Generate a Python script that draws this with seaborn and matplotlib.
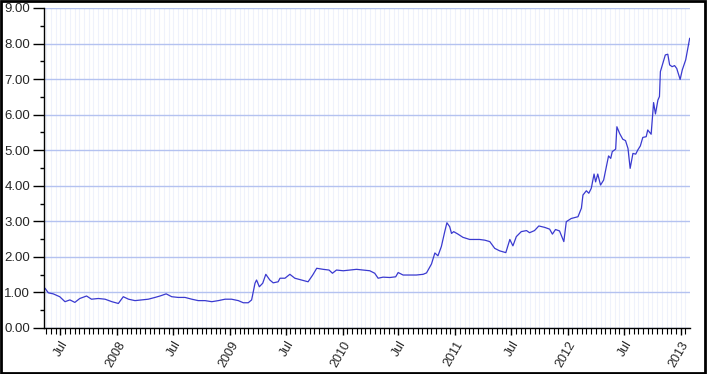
import matplotlib
matplotlib.use("Agg")
import matplotlib.pyplot as plt
import matplotlib.dates as mdates
from matplotlib.ticker import MultipleLocator, FormatStrFormatter
from matplotlib.patches import Rectangle
import pandas as pd
import seaborn as sns

dates = [
    "2007-05-12", "2007-05-23", "2007-06-08", "2007-06-29", "2007-07-16", "2007-08-01",
    "2007-08-17", "2007-09-02", "2007-09-24", "2007-10-10", "2007-11-01", "2007-11-23",
    "2007-12-15", "2008-01-05", "2008-01-21", "2008-02-07", "2008-02-28", "2008-03-21",
    "2008-04-11", "2008-05-03", "2008-05-19", "2008-06-08", "2008-06-26", "2008-07-17",
    "2008-08-08", "2008-08-30", "2008-09-20", "2008-10-12", "2008-11-03", "2008-11-24",
    "2008-12-16", "2009-01-06", "2009-01-28", "2009-02-13", "2009-03-01", "2009-03-12",
    "2009-03-23", "2009-03-28", "2009-04-06", "2009-04-17", "2009-04-27", "2009-05-10",
    "2009-05-21", "2009-06-06", "2009-06-12", "2009-06-28", "2009-07-14", "2009-07-30",
    "2009-08-21", "2009-09-11", "2009-09-26", "2009-10-09", "2009-10-30", "2009-11-18",
    "2009-11-29", "2009-12-12", "2010-01-03", "2010-01-24", "2010-02-15", "2010-03-08",
    "2010-03-30", "2010-04-15", "2010-04-26", "2010-05-12", "2010-06-03", "2010-06-22",
    "2010-06-30", "2010-07-16", "2010-08-07", "2010-08-28", "2010-09-19", "2010-09-30",
    "2010-10-16", "2010-10-27", "2010-11-06", "2010-11-17", "2010-11-28", "2010-12-05",
    "2010-12-14", "2010-12-20", "2010-12-27", "2011-01-10", "2011-01-26", "2011-02-17",
    "2011-03-21", "2011-04-07", "2011-04-23", "2011-05-09", "2011-05-25", "2011-06-14",
    "2011-06-27", "2011-07-07", "2011-07-18", "2011-08-03", "2011-08-20", "2011-08-30",
    "2011-09-15", "2011-09-29", "2011-10-18", "2011-11-03", "2011-11-12", "2011-11-22",
    "2011-12-05", "2011-12-19", "2011-12-27", "2012-01-12", "2012-02-03", "2012-02-14",
    "2012-02-19", "2012-03-01", "2012-03-09", "2012-03-17", "2012-03-26", "2012-03-31",
    "2012-04-07", "2012-04-16", "2012-04-26", "2012-05-05", "2012-05-12", "2012-05-19",
    "2012-05-24", "2012-06-04", "2012-06-08", "2012-06-17", "2012-06-27", "2012-07-06",
    "2012-07-14", "2012-07-21", "2012-07-30", "2012-08-08", "2012-08-15", "2012-08-23",
    "2012-08-31", "2012-09-11", "2012-09-16", "2012-09-27", "2012-10-05", "2012-10-11",
    "2012-10-19", "2012-10-24", "2012-10-27", "2012-11-04", "2012-11-12", "2012-11-20",
    "2012-11-26", "2012-12-04", "2012-12-12", "2012-12-19", "2012-12-30", "2013-01-06",
    "2013-01-17", "2013-01-24", "2013-01-30",
]
values = [
    1.12, 0.99, 0.96, 0.88, 0.74, 0.79,
    0.72, 0.83, 0.90, 0.81, 0.83, 0.81,
    0.74, 0.69, 0.88, 0.81, 0.77, 0.79,
    0.81, 0.86, 0.90, 0.96, 0.88, 0.86,
    0.86, 0.81, 0.77, 0.77, 0.74, 0.77,
    0.81, 0.81, 0.77, 0.71, 0.71, 0.79,
    1.26, 1.35, 1.16, 1.26, 1.51, 1.35,
    1.27, 1.30, 1.40, 1.40, 1.51, 1.40,
    1.35, 1.30, 1.49, 1.68, 1.65, 1.63,
    1.54, 1.63, 1.61, 1.63, 1.65, 1.63,
    1.61, 1.54, 1.40, 1.43, 1.42, 1.44,
    1.56, 1.49, 1.49, 1.49, 1.51, 1.55,
    1.80, 2.11, 2.03, 2.29, 2.71, 2.96,
    2.85, 2.66, 2.71, 2.64, 2.55, 2.49,
    2.49, 2.47, 2.43, 2.24, 2.17, 2.12,
    2.49, 2.31, 2.57, 2.71, 2.74, 2.68,
    2.74, 2.87, 2.83, 2.78, 2.64, 2.77,
    2.73, 2.43, 2.99, 3.08, 3.13, 3.37,
    3.74, 3.86, 3.79, 3.93, 4.33, 4.11,
    4.33, 4.02, 4.16, 4.54, 4.84, 4.77,
    4.96, 5.03, 5.66, 5.47, 5.31, 5.27,
    5.05, 4.49, 4.91, 4.89, 5.01, 5.12,
    5.36, 5.38, 5.57, 5.45, 6.34, 6.02,
    6.41, 6.51, 7.21, 7.44, 7.68, 7.70,
    7.40, 7.35, 7.38, 7.30, 6.99, 7.26,
    7.54, 7.87, 8.15,
]
y_ticks = [0, 1, 2, 3, 4, 5, 6, 7, 8, 9]
x_start, x_end = "2007-05-09", "2013-01-31"

df = pd.DataFrame({"date": pd.to_datetime(dates), "value": values})

sns.set_theme(style="white")
plt.rcParams["font.family"] = ["Liberation Sans", "DejaVu Sans"]

fig = plt.figure(figsize=(7.07, 3.74), dpi=100)
ax = fig.add_axes([44 / 707, 46 / 374, (690 - 44) / 707, (328 - 8) / 374])

sns.lineplot(data=df, x="date", y="value", ax=ax, color="#3a3ad0", linewidth=0.9)

ax.set_xlim(pd.Timestamp(x_start), pd.Timestamp(x_end))
ax.set_ylim(0, 9)
ax.set_xlabel("")
ax.set_ylabel("")

ax.set_yticks(y_ticks)
ax.yaxis.set_major_formatter(FormatStrFormatter("%.2f"))
ax.yaxis.set_minor_locator(MultipleLocator(0.5))

ax.xaxis.set_major_locator(mdates.MonthLocator(bymonth=[1, 7]))
def fmt(x, pos=None):
    d = mdates.num2date(x)
    return str(d.year) if d.month == 1 else "Jul"
ax.xaxis.set_major_formatter(plt.FuncFormatter(fmt))
ax.xaxis.set_minor_locator(mdates.DayLocator(bymonthday=[1, 16]))

for lbl in ax.get_xticklabels():
    lbl.set_rotation(60)
    lbl.set_ha("right")
    lbl.set_rotation_mode("anchor")
    lbl.set_fontsize(9)
for lbl in ax.get_yticklabels():
    lbl.set_fontsize(9.5)

ax.tick_params(axis="y", which="major", direction="out", length=8, width=1, color="black", left=True, pad=2)
ax.tick_params(axis="y", which="minor", direction="out", length=3, width=1, color="black", left=True)
ax.tick_params(axis="x", which="major", direction="out", length=5, width=1, color="black", bottom=True, pad=3)
ax.tick_params(axis="x", which="minor", direction="out", length=4, width=0.8, color="black", bottom=True)

ax.grid(False)
ax.yaxis.grid(True, which="major", color="#b4c2f0", linewidth=1)
ax.xaxis.grid(True, which="minor", color="#eff2fb", linewidth=0.8)
ax.xaxis.grid(True, which="major", color="#eff2fb", linewidth=0.8)
ax.set_axisbelow(True)

for s in ["top", "right"]:
    ax.spines[s].set_visible(False)
for s in ["left", "bottom"]:
    ax.spines[s].set_color("black")
    ax.spines[s].set_linewidth(1)

fig.patches.append(Rectangle((0.002, 0.003), 0.995, 0.994, transform=fig.transFigure,
                             fill=False, edgecolor="black", linewidth=2))

fig.savefig("out.png", dpi=100)
